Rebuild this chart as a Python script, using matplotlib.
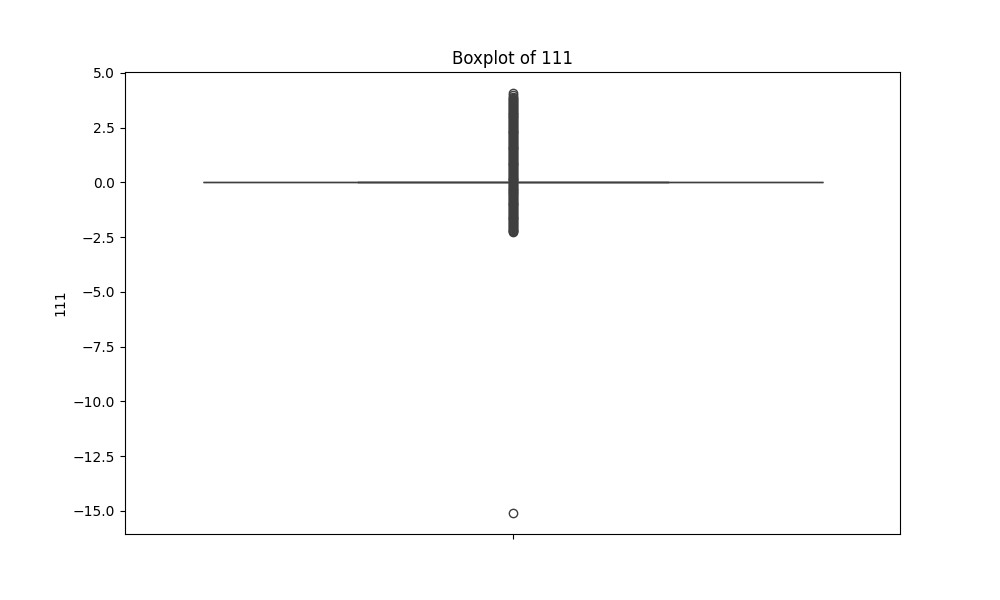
import pandas as pd
import matplotlib
matplotlib.use('Agg')
import matplotlib.pyplot as plt
import seaborn as sns

col = '111'

# most of the column sits at exactly zero, so Q1 = median = Q3 = 0
n_zero = 400
zero_vals = [0.0] * n_zero

# everything else shows up as an outlier (dense band between about -2.3 and 4.1)
outliers_pos = [4.08, 3.98, 3.88, 3.8, 3.71, 3.62, 3.53, 3.44, 3.35, 3.27, 3.18,
                3.1, 3.01, 2.93, 2.84, 2.75, 2.67, 2.58, 2.49, 2.41, 2.32, 2.24,
                2.15, 2.07, 1.98, 1.89, 1.81, 1.72, 1.63, 1.55, 1.46, 1.38, 1.29,
                1.2, 1.12, 1.03, 0.95, 0.86, 0.77, 0.69, 0.6, 0.52, 0.43, 0.35,
                0.26, 0.17, 0.09]
outliers_pos_2 = [3.84, 3.75, 3.66, 3.57, 3.49, 3.4, 3.31, 3.22, 3.14, 3.05,
                  2.97, 2.88, 2.79, 2.71, 2.62, 2.54, 2.45, 2.36, 2.28, 2.19,
                  2.11, 2.02, 1.93, 1.85, 1.76, 1.68, 1.59, 1.5, 1.42, 1.33,
                  1.25, 1.16, 1.07, 0.99, 0.9, 0.82, 0.73, 0.64, 0.56, 0.47,
                  0.39, 0.3, 0.21, 0.13, 0.05]
outliers_neg = [-0.08, -0.16, -0.25, -0.33, -0.42, -0.5, -0.59, -0.67, -0.76,
                -0.84, -0.93, -1.01, -1.1, -1.18, -1.27, -1.35, -1.44, -1.52,
                -1.61, -1.69, -1.78, -1.86, -1.95, -2.03, -2.12, -2.2, -2.26]
outliers_neg_2 = [-0.04, -0.12, -0.2, -0.29, -0.37, -0.46, -0.54, -0.63, -0.71,
                  -0.8, -0.88, -0.97, -1.05, -1.14, -1.22, -1.31, -1.39, -1.48,
                  -1.56, -1.65, -1.73, -1.82, -1.9, -1.99, -2.07, -2.16, -2.23]
extreme = [-15.1]

data = pd.DataFrame({col: zero_vals + outliers_pos + outliers_pos_2
                     + outliers_neg + outliers_neg_2 + extreme})

fig, ax = plt.subplots(figsize=(10, 6), dpi=100)
sns.boxplot(y=data[col], ax=ax)
ax.set_title(f'Boxplot of {col}')
ax.set_ylabel(col)

plt.savefig('out.png')
